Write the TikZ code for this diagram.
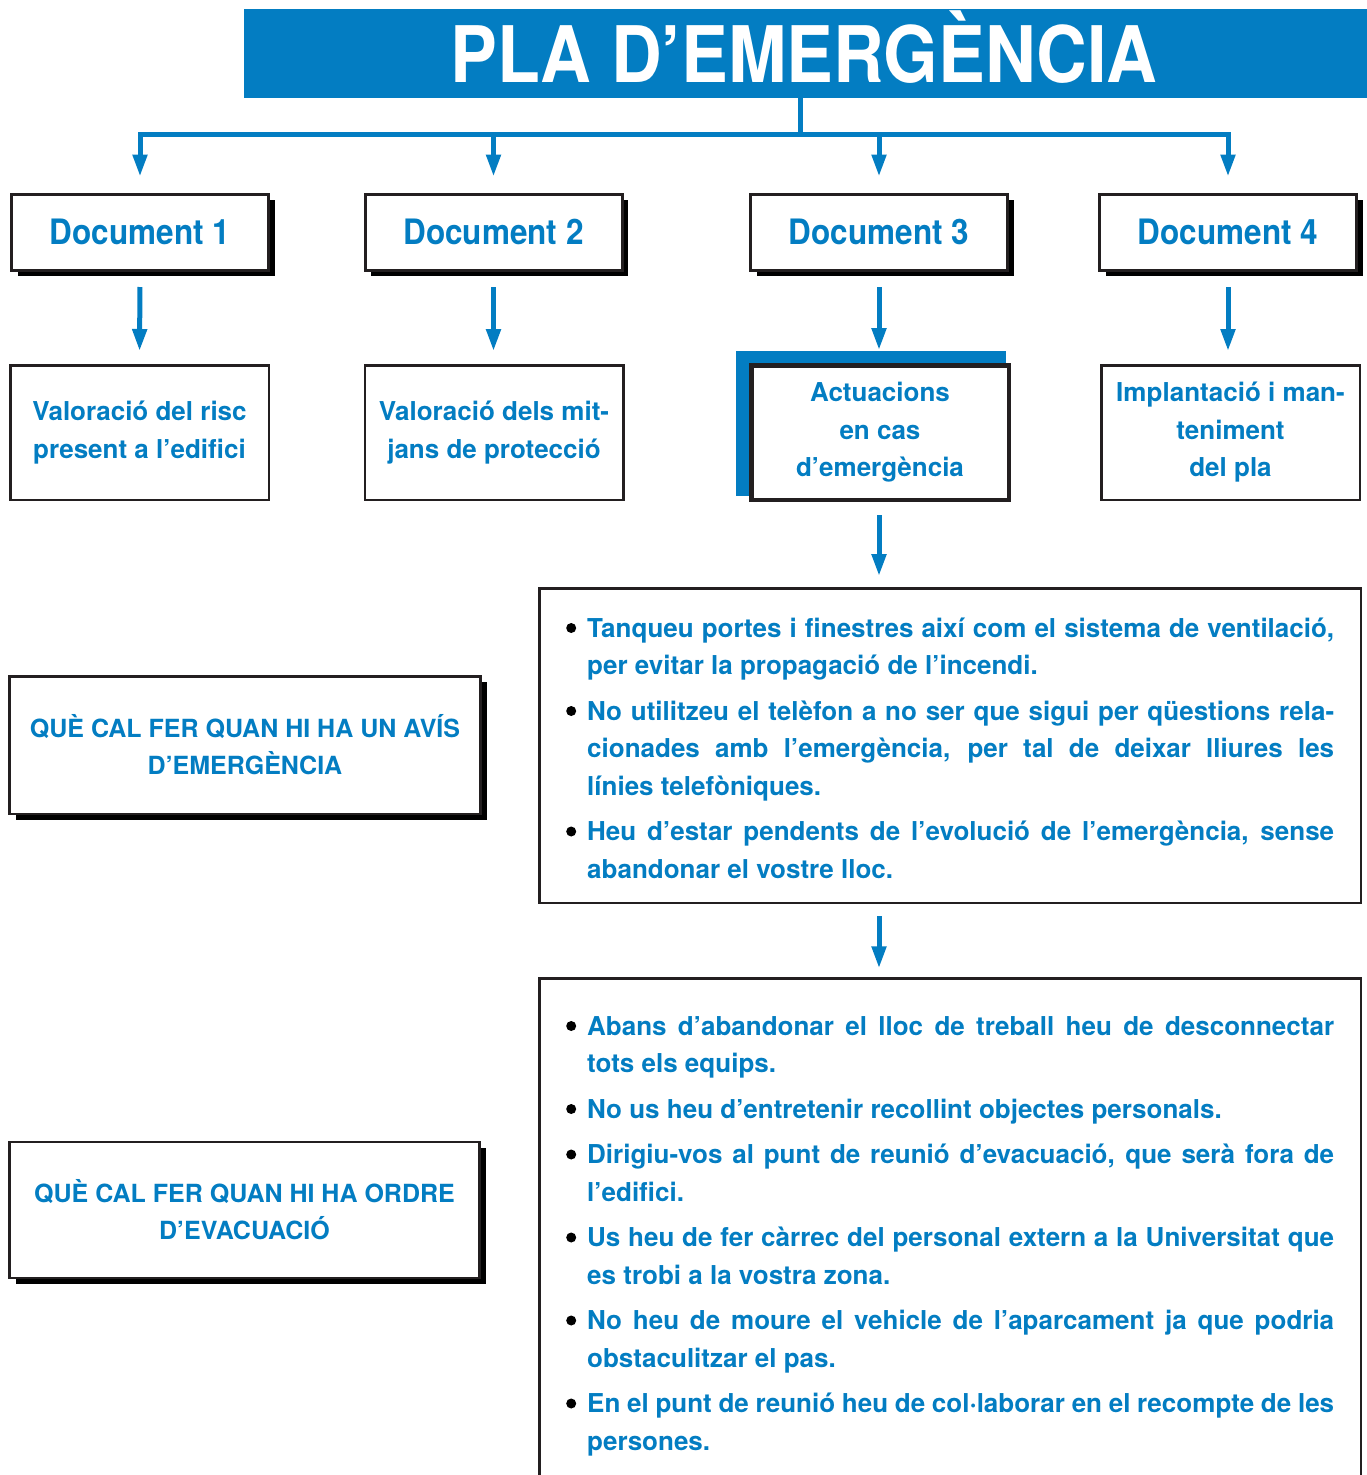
\documentclass[tikz,border=0pt]{standalone}
\usepackage{fontspec}
\setmainfont{TeX Gyre Heros}
\newfontfamily\condfont{TeX Gyre Heros}[FakeStretch=0.9]
\usetikzlibrary{arrows.meta}
\definecolor{pblue}{RGB}{3,125,194}
\definecolor{pdark}{RGB}{35,31,32}
\newcommand\jline[1]{\makebox[747pt][s]{#1}\par}
\newcommand\lline[1]{#1\par}
\newcommand\itm{\leavevmode\llap{\tikz[baseline=0pt]\fill[black] (0pt,9pt) circle[radius=5pt];\hspace{11pt}}}
\newcommand\itemgap{\vspace{8pt}}
\begin{document}
\begin{tikzpicture}[x=1pt,y=-1pt,
  conn/.style={pblue, line width=5pt},
  arr/.style={pblue, line width=5pt, -{Triangle[length=22pt,width=14pt]}},
  shadowed/.style={preaction={fill=black, transform canvas={xshift=6pt,yshift=-6pt}}},
  docbox/.style={draw=pdark, line width=3pt, fill=white, minimum width=257pt, minimum height=76pt,
    inner sep=0pt, text=pblue, font=\condfont\bfseries\fontsize{35pt}{40pt}\selectfont, shadowed},
  valbox/.style={draw=pdark, line width=2.5pt, fill=white, minimum width=258.5pt, minimum height=134.5pt,
    inner sep=0pt, text=pblue, align=center, font=\bfseries\fontsize{26pt}{37.5pt}\selectfont},
  bigbox/.style={draw=pdark, line width=2.5pt, fill=white, minimum width=821.5pt, inner sep=0pt},
  qbox/.style={draw=pdark, line width=2.5pt, fill=white, minimum width=471pt, minimum height=137.5pt,
    inner sep=0pt, text=pblue, align=center, font=\bfseries\fontsize{25pt}{37pt}\selectfont, shadowed},
  bullettext/.style={anchor=base west, inner sep=0pt, text=pblue, font=\bfseries\fontsize{26pt}{37.5pt}\selectfont}
]
\useasboundingbox (0,0) rectangle (1367,1475);

% title
\node[fill=pblue, minimum width=1123pt, minimum height=89pt, inner sep=0pt, anchor=north west] (title) at (244,9) {};
\node[anchor=base, inner sep=0pt, text=white, font=\condfont\bfseries\fontsize{78pt}{80pt}\selectfont] (titletext) at (804,82) {PLA D’EMERGÈNCIA};

% documents
\node[docbox] (d1) at (140,232) {Document 1};
\node[docbox] (d2) at (493.5,232) {Document 2};
\node[docbox] (d3) at (879,232) {Document 3};
\node[docbox] (d4) at (1228,232) {Document 4};

% second row
\fill[pblue] (736,351) rectangle (1006,496);
\node[valbox] (v1) at (139.5,432.5) {Valoració del risc\\present a l’edifici};
\node[valbox] (v2) at (494,432.5) {Valoració dels mit-\\jans de protecció};
\node[valbox, line width=4.5pt, minimum width=257.5pt] (v3) at (880,432.5) {Actuacions\\en cas\\d’emergència};
\node[valbox] (v4) at (1230.5,432.5) {Implantació i man-\\teniment\\del pla};

% big boxes
\node[bigbox, minimum height=314.5pt] (b1) at (950,745.5) {};
\node[bigbox, minimum height=520pt, anchor=north] (b2) at (950,977.25) {};

% left boxes
\node[qbox] (q1) at (245,745) {QUÈ CAL FER QUAN HI HA UN AVÍS\\D’EMERGÈNCIA};
\node[qbox, minimum width=470pt, minimum height=136pt] (q2) at (244.5,1210) {QUÈ CAL FER QUAN HI HA ORDRE\\D’EVACUACIÓ};

% bullet texts
\node[bullettext] (t1) at (587,637) {\parbox[t]{747pt}{\setlength\parindent{0pt}%
\itm\jline{Tanqueu portes i finestres així com el sistema de ventilació,}
\lline{per evitar la propagació de l’incendi.}
\itemgap
\itm\jline{No utilitzeu el telèfon a no ser que sigui per qüestions rela-}
\jline{cionades amb l’emergència, per tal de deixar lliures les}
\lline{línies telefòniques.}
\itemgap
\itm\jline{Heu d’estar pendents de l’evolució de l’emergència, sense}
\lline{abandonar el vostre lloc.}}};

\node[bullettext] (t2) at (587,1035) {\parbox[t]{747pt}{\setlength\parindent{0pt}%
\itm\jline{Abans d’abandonar el lloc de treball heu de desconnectar}
\lline{tots els equips.}
\itemgap
\itm\lline{No us heu d’entretenir recollint objectes personals.}
\itemgap
\itm\jline{Dirigiu-vos al punt de reunió d’evacuació, que serà fora de}
\lline{l’edifici.}
\itemgap
\itm\jline{Us heu de fer càrrec del personal extern a la Universitat que}
\lline{es trobi a la vostra zona.}
\itemgap
\itm\jline{No heu de moure el vehicle de l’aparcament ja que podria}
\lline{obstaculitzar el pas.}
\itemgap
\itm\jline{En el punt de reunió heu de col·laborar en el recompte de les}
\lline{persones.}}};

% connectors
\coordinate (bar) at (800,134);
\draw[conn] (title.south -| bar) -- (bar);
\draw[conn, line cap=rect] (d1.north |- bar) -- (d4.north |- bar);
\foreach \d in {d1,d2,d3,d4}
  \draw[arr, shorten >=16pt] (\d.north |- bar) -- (\d.north);
\draw[arr, shorten <=15.5pt, shorten >=13pt] (d1.south) -- (v1.north);
\draw[arr, shorten <=15.5pt, shorten >=13pt] (d2.south) -- (d2.south |- v2.north);
\draw[arr, shorten <=15.5pt, shorten >=13pt] (d3.south) -- (d3.south |- v3.north);
\draw[arr, shorten <=15.5pt, shorten >=13pt] (d4.south) -- (d4.south |- v4.north);
\draw[arr, shorten <=13pt, shorten >=11pt] (d3.south |- v3.south) -- (d3.south |- b1.north);
\draw[arr, shorten <=12pt, shorten >=9pt] (d3.south |- b1.south) -- (d3.south |- b2.north);
\end{tikzpicture}
\end{document}
